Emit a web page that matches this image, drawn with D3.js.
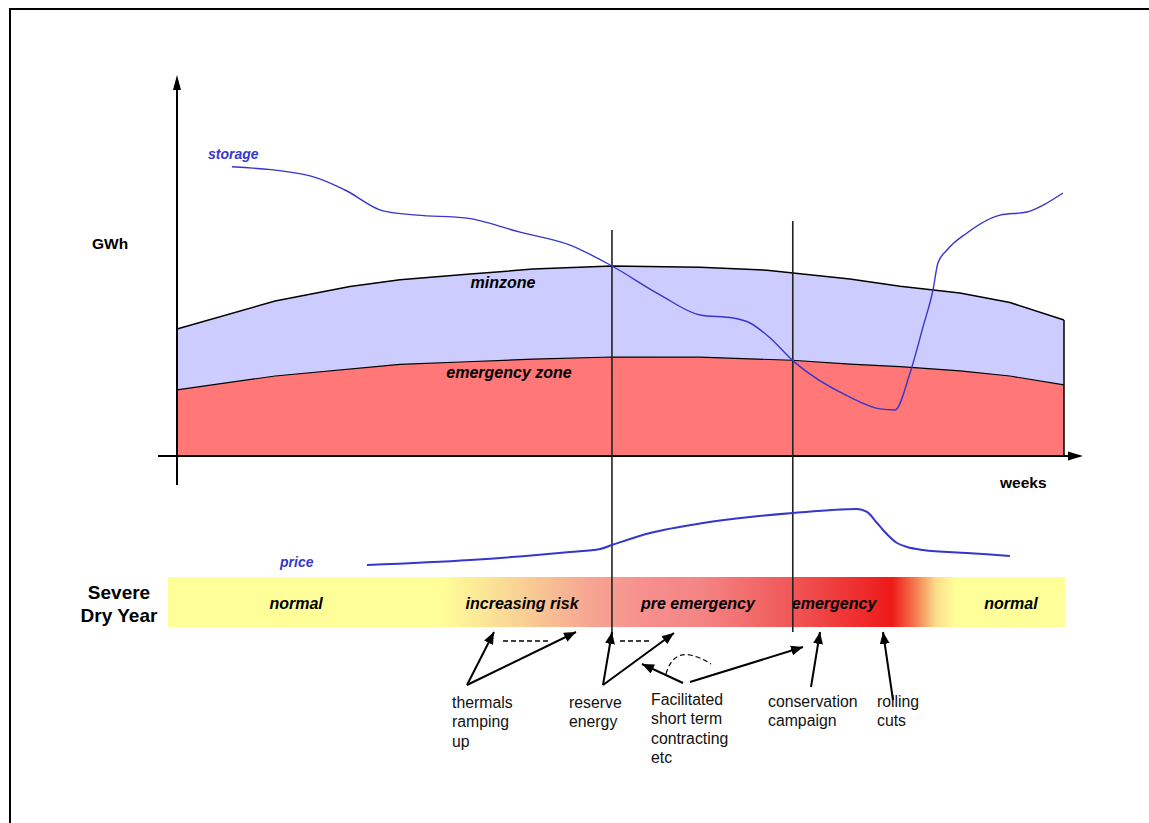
<!DOCTYPE html>
<html>
<head>
<meta charset="utf-8">
<script src="https://cdn.jsdelivr.net/npm/d3@7"></script>
<style>
  body { margin: 0; background: #fff; }
  svg { display: block; }
  text { font-family: "Liberation Sans", Arial, sans-serif; }
</style>
</head>
<body>
<svg id="chart" width="1149" height="823"></svg>
<script>
// ---------------- DATA ----------------
// minzone upper boundary (weeks, GWh)
const minzoneWeeks = [0, 5.75, 10.14, 13.07, 17.0, 20.87, 25.5, 30.66, 34.59, 39.45, 42.39, 45.9, 48.83, 52];
const minzoneGWh   = [33.4, 40.8, 44.6, 46.4, 47.8, 49.2, 50.0, 49.7, 48.9, 46.6, 44.7, 42.9, 40.4, 35.8];
// emergency zone upper boundary
const emergWeeks = [0, 5.75, 13.07, 17.0, 20.87, 25.5, 30.66, 36.05, 39.45, 42.39, 45.9, 48.83, 52];
const emergGWh   = [17.4, 21.05, 24.1, 24.8, 25.5, 26.05, 26.0, 25.2, 24.2, 23.5, 22.4, 21.05, 18.7];
// storage trajectory
const storageWeeks = [3.22, 7.80, 9.85, 12.08, 14.07, 17.0, 20.11, 23.04, 25.5, 28.32, 30.66, 32.60, 33.59, 34.76, 36.05, 39.45, 41.21, 42.09, 42.97, 43.73, 44.32, 44.61, 45.14, 46.31, 48.25, 49.83, 50.89, 51.94];
const storageGWh   = [76.1, 73.7, 70.0, 64.5, 63.4, 62.6, 58.9, 55.5, 50.0, 42.4, 37.1, 36.3, 35.0, 31.1, 25.3, 15.5, 12.4, 12.1, 21.8, 33.9, 43.7, 50.8, 54.2, 58.7, 63.4, 64.2, 66.3, 69.2];
// price trajectory (relative level)
const priceWeeks = [11.14, 17.18, 21.1, 23.04, 24.8, 25.5, 27.73, 30.84, 33.59, 36.11, 39.86, 40.45, 41.04, 41.39, 42.21, 42.8, 43.73, 46.31, 48.83];
const priceLevel = [1.25, 1.88, 2.5, 2.88, 3.25, 3.75, 5.25, 6.5, 7.25, 7.75, 8.25, 7.88, 6.5, 5.63, 4.0, 3.5, 3.13, 2.75, 2.38];
// phase boundaries (weeks)
const phaseBoundaries = [25.5, 36.1];
// phases on the severity bar
const phaseNames   = ["normal", "increasing risk", "pre emergency", "emergency", "normal"];
const phaseCenters = [6.98, 20.23, 30.54, 38.52, 48.89];
// annotation labels
const annotationLines = [
  ["thermals", "ramping", "up"],
  ["reserve", "energy"],
  ["Facilitated", "short term", "contracting", "etc"],
  ["conservation", "campaign"],
  ["rolling", "cuts"]
];

// ---------------- SCALES ----------------
const svg = d3.select("#chart");
const x = d3.scaleLinear().domain([0, 52]).range([177, 1064]);
const y = d3.scaleLinear().domain([0, 100]).range([456, 76]);
const yPrice = d3.scaleLinear().domain([0, 10]).range([575, 495]);

const blue = "#3636CC";

// frame
svg.append("rect").attr("x", 10).attr("y", 9).attr("width", 1200).attr("height", 900)
  .attr("fill", "none").attr("stroke", "#000").attr("stroke-width", 2);

// defs
const defs = svg.append("defs");
defs.append("marker").attr("id", "ah")
  .attr("viewBox", "0 0 12 10").attr("refX", 12).attr("refY", 5)
  .attr("markerWidth", 12).attr("markerHeight", 10)
  .attr("markerUnits", "userSpaceOnUse").attr("orient", "auto")
  .append("path").attr("d", "M0,0 L12,5 L0,10 Z").attr("fill", "#000");

const grad = defs.append("linearGradient").attr("id", "sev")
  .attr("x1", "0%").attr("x2", "100%").attr("y1", "0%").attr("y2", "0%");
[
  [0, "#FFFF99"], [0.303, "#FFFF99"], [0.392, "#F9D295"], [0.47, "#F6A592"],
  [0.537, "#F68E8E"], [0.593, "#F48585"], [0.693, "#F15858"], [0.794, "#EE2020"],
  [0.807, "#EE1A1A"], [0.833, "#F47A4E"], [0.856, "#FCDC8C"], [0.878, "#FFFF99"], [1, "#FFFF99"]
].forEach(([o, c]) => grad.append("stop").attr("offset", o).attr("stop-color", c));

// ---------------- ZONES ----------------
const minPts = minzoneWeeks.map((w, i) => [w, minzoneGWh[i]]);
const emPts = emergWeeks.map((w, i) => [w, emergGWh[i]]);
const interp = (ws, vs) => w => {
  for (let i = 1; i < ws.length; i++) {
    if (w <= ws[i]) {
      const t = (w - ws[i - 1]) / (ws[i] - ws[i - 1]);
      return vs[i - 1] + t * (vs[i] - vs[i - 1]);
    }
  }
  return vs[vs.length - 1];
};
const emInterp = interp(emergWeeks, emergGWh);
const minInterp = interp(minzoneWeeks, minzoneGWh);
const allW = Array.from(new Set([...minzoneWeeks, ...emergWeeks])).sort((a, b) => a - b);

svg.append("path")
  .datum(allW)
  .attr("d", d3.area().x(w => x(w)).y0(w => y(emInterp(w))).y1(w => y(minInterp(w))))
  .attr("fill", "#CCCCFF");
svg.append("path")
  .datum(emPts)
  .attr("d", d3.area().x(d => x(d[0])).y0(y(0)).y1(d => y(d[1])))
  .attr("fill", "#FF7777");

const line = d3.line().x(d => x(d[0])).y(d => y(d[1]));
svg.append("path").datum(minPts).attr("d", line).attr("fill", "none").attr("stroke", "#000").attr("stroke-width", 1.5);
svg.append("path").datum(emPts).attr("d", line).attr("fill", "none").attr("stroke", "#000").attr("stroke-width", 1.2);
svg.append("line").attr("x1", x(52)).attr("x2", x(52)).attr("y1", y(0)).attr("y2", y(minzoneGWh[minzoneGWh.length - 1]))
  .attr("stroke", "#000").attr("stroke-width", 1.5);

// zone labels
svg.append("text").attr("x", 503).attr("y", 288).attr("text-anchor", "middle")
  .attr("font-size", 16).attr("font-weight", "bold").attr("font-style", "italic").text("minzone");
svg.append("text").attr("x", 509).attr("y", 378).attr("text-anchor", "middle")
  .attr("font-size", 16).attr("font-weight", "bold").attr("font-style", "italic").text("emergency zone");

// ---------------- AXES ----------------
svg.append("line").attr("x1", 177).attr("x2", 177).attr("y1", 485).attr("y2", 88)
  .attr("stroke", "#000").attr("stroke-width", 2);
svg.append("path").attr("d", "M177,75 L181,90 L173,90 Z").attr("fill", "#000");
svg.append("line").attr("x1", 158).attr("x2", 1072).attr("y1", y(0)).attr("y2", y(0))
  .attr("stroke", "#000").attr("stroke-width", 2);
svg.append("path").attr("d", `M1083,${y(0)} L1068,${y(0) - 4.5} L1068,${y(0) + 4.5} Z`).attr("fill", "#000");

svg.append("text").attr("x", 92).attr("y", 249).attr("font-size", 15.5).attr("font-weight", "bold").text("GWh");
svg.append("text").attr("x", 1000).attr("y", 488).attr("font-size", 15.5).attr("font-weight", "bold").text("weeks");

// ---------------- SEVERITY BAR ----------------
svg.append("rect").attr("x", x(-0.53)).attr("y", 577).attr("width", x(52.06) - x(-0.53)).attr("height", 50)
  .attr("fill", "url(#sev)");
svg.selectAll("text.phase").data(phaseNames).join("text").attr("class", "phase")
  .attr("x", (d, i) => x(phaseCenters[i])).attr("y", 609).attr("text-anchor", "middle")
  .attr("font-size", 16).attr("font-weight", "bold").attr("font-style", "italic").text(d => d);

svg.append("text").attr("x", 119).attr("y", 599).attr("text-anchor", "middle")
  .attr("font-size", 19).attr("font-weight", "bold").text("Severe");
svg.append("text").attr("x", 119).attr("y", 622).attr("text-anchor", "middle")
  .attr("font-size", 19).attr("font-weight", "bold").text("Dry Year");

// phase boundary lines
const boundTop = [230, 221];
const boundBottom = [636, 632];
svg.selectAll("line.bound").data(phaseBoundaries).join("line").attr("class", "bound")
  .attr("x1", d => x(d)).attr("x2", d => x(d))
  .attr("y1", (d, i) => boundTop[i]).attr("y2", (d, i) => boundBottom[i])
  .attr("stroke", "#222").attr("stroke-width", 1.6);

// ---------------- STORAGE & PRICE ----------------
svg.append("path")
  .datum(storageWeeks.map((w, i) => [w, storageGWh[i]]))
  .attr("d", d3.line().curve(d3.curveMonotoneX).x(d => x(d[0])).y(d => y(d[1])))
  .attr("fill", "none").attr("stroke", blue).attr("stroke-width", 1.4);
svg.append("text").attr("x", 208).attr("y", 159).attr("font-size", 14).attr("font-weight", "bold")
  .attr("font-style", "italic").attr("fill", blue).text("storage");

svg.append("path")
  .datum(priceWeeks.map((w, i) => [w, priceLevel[i]]))
  .attr("d", d3.line().curve(d3.curveMonotoneX).x(d => x(d[0])).y(d => yPrice(d[1])))
  .attr("fill", "none").attr("stroke", blue).attr("stroke-width", 2);
svg.append("text").attr("x", 280).attr("y", 567).attr("font-size", 14).attr("font-weight", "bold")
  .attr("font-style", "italic").attr("fill", blue).text("price");

// ---------------- ANNOTATIONS ----------------
const annX = [452, 569, 651, 768, 877];
const annY = [708, 708, 705, 707, 707];
annotationLines.forEach((lines, i) => {
  const t = svg.append("text").attr("x", annX[i]).attr("y", annY[i]).attr("font-size", 15.8).attr("fill", "#111");
  lines.forEach((l, j) => t.append("tspan").attr("x", annX[i]).attr("dy", j === 0 ? 0 : 19.3).text(l));
});

const arrows = [
  [467, 685, 494, 632], [467, 685, 576, 632],
  [603, 685, 612, 632], [603, 685, 674, 633],
  [683, 683, 642, 664], [690, 682, 803, 647],
  [811, 687, 820, 632],
  [893, 700, 883, 632]
];
svg.selectAll("line.arrow").data(arrows).join("line").attr("class", "arrow")
  .attr("x1", d => d[0]).attr("y1", d => d[1]).attr("x2", d => d[2]).attr("y2", d => d[3])
  .attr("stroke", "#000").attr("stroke-width", 2).attr("marker-end", "url(#ah)");

const dashes = [[503, 641, 550, 641], [620, 641, 650, 641]];
svg.selectAll("line.dash").data(dashes).join("line").attr("class", "dash")
  .attr("x1", d => d[0]).attr("y1", d => d[1]).attr("x2", d => d[2]).attr("y2", d => d[3])
  .attr("stroke", "#000").attr("stroke-width", 1.3).attr("stroke-dasharray", "5,3");
svg.append("path").attr("d", "M666,674 Q672,652 690,655 Q700,657 711,664")
  .attr("fill", "none").attr("stroke", "#000").attr("stroke-width", 1.2).attr("stroke-dasharray", "5,3");
</script>
</body>
</html>
